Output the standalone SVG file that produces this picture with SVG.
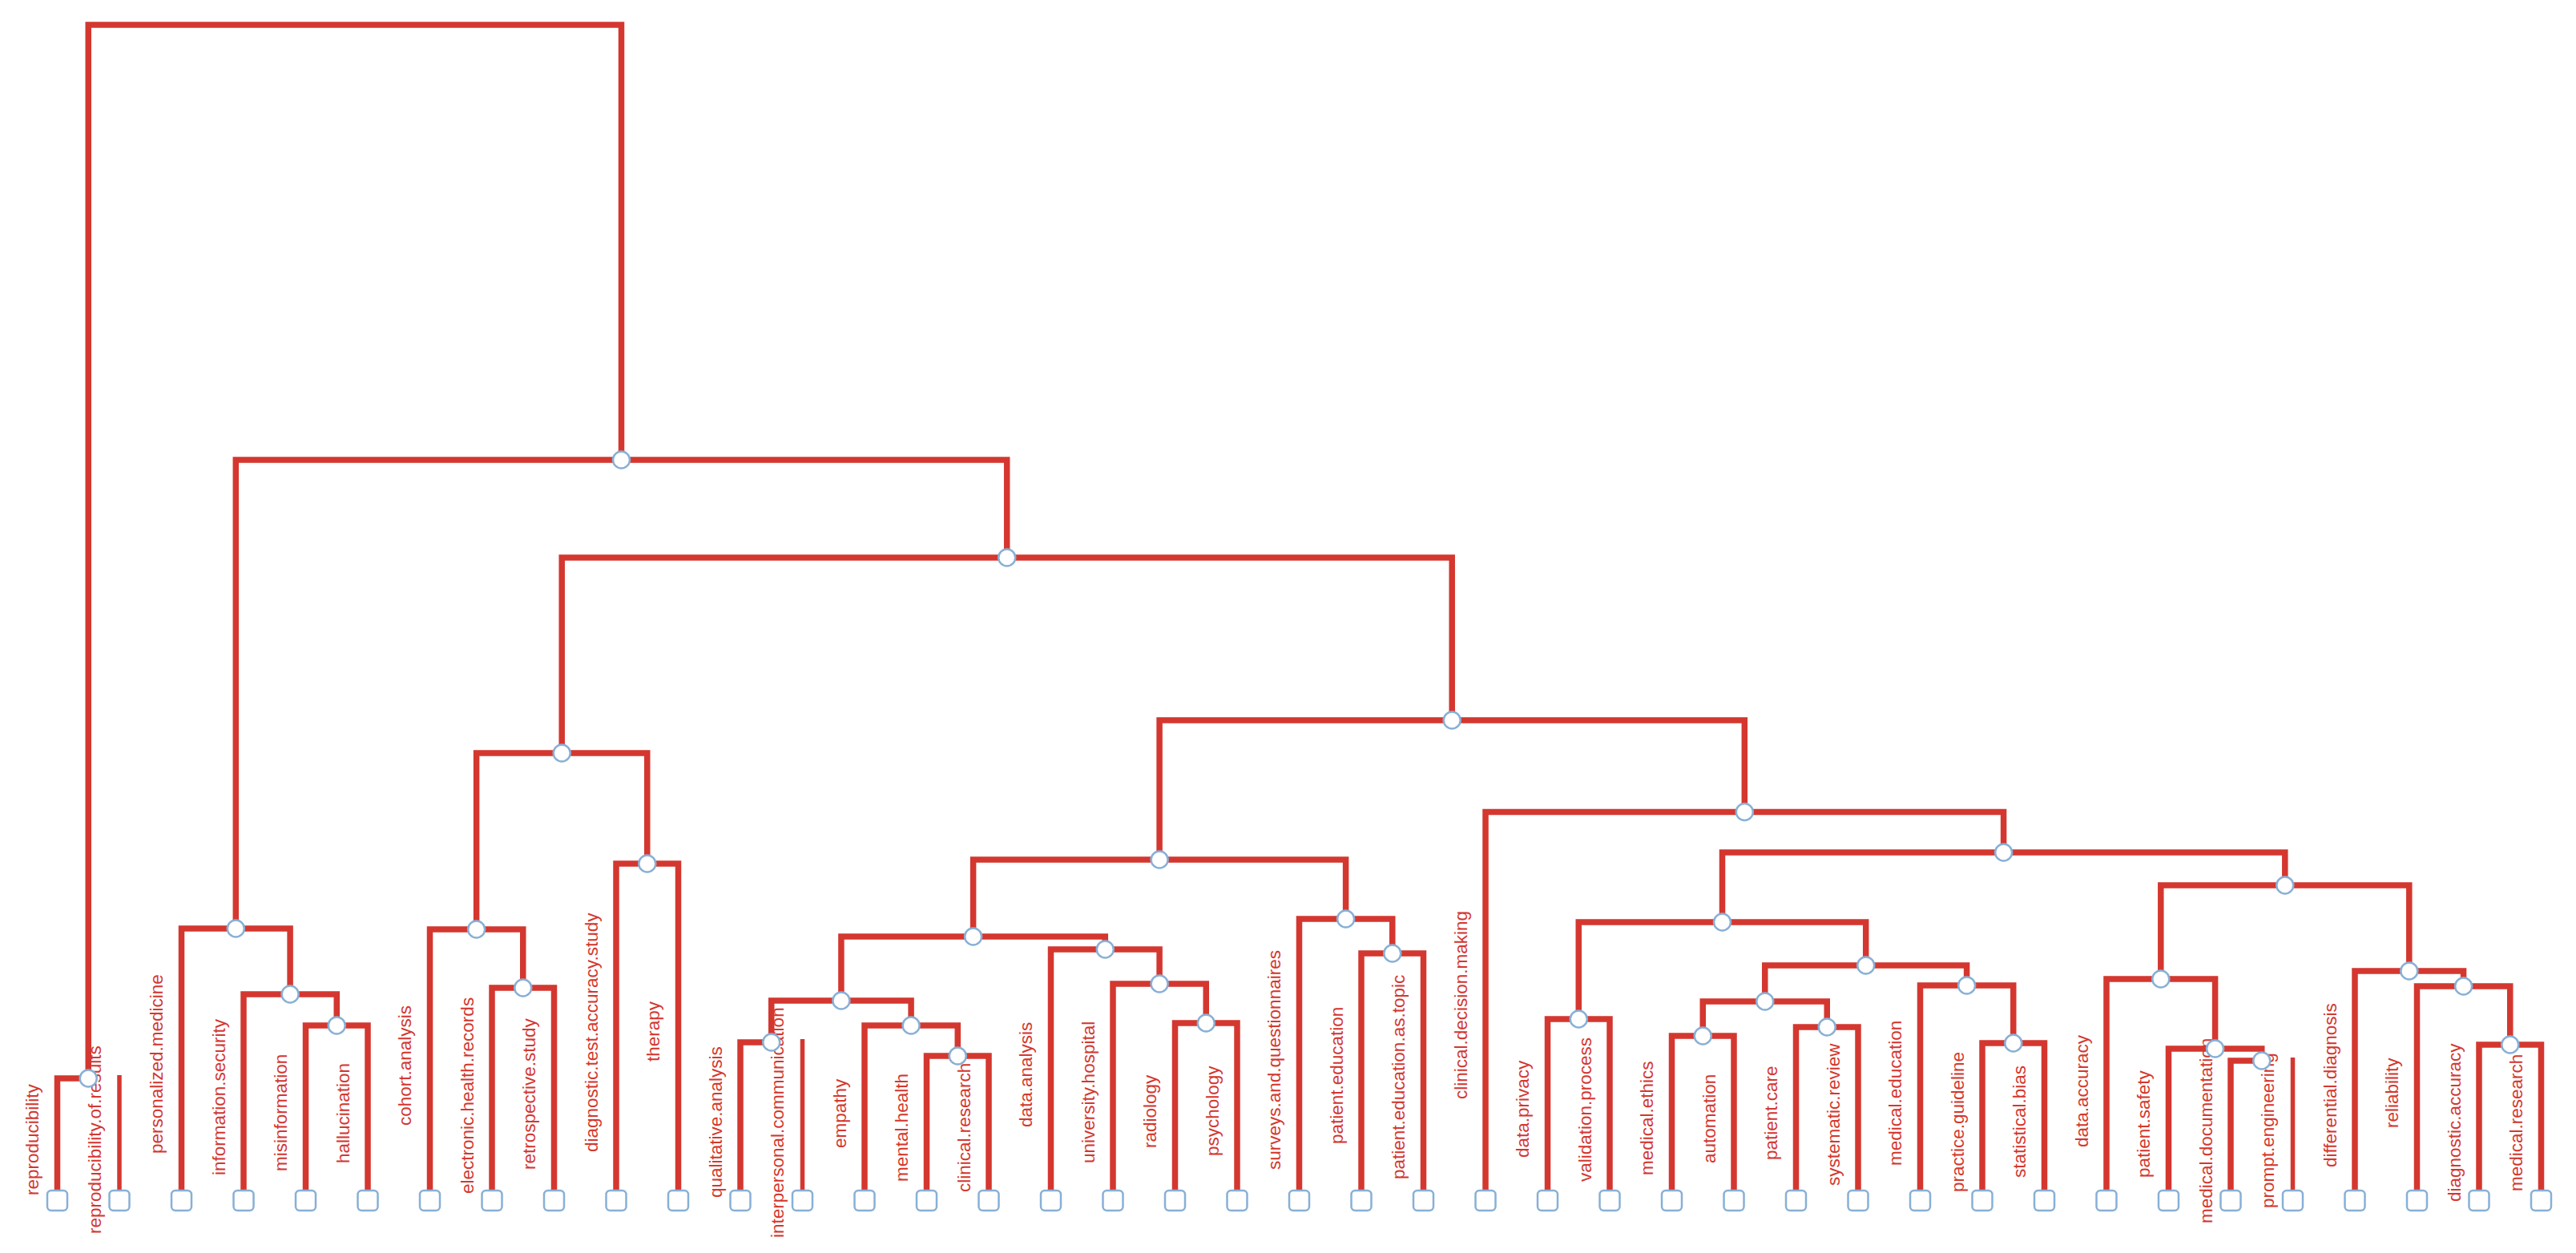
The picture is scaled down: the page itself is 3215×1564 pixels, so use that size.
<svg xmlns="http://www.w3.org/2000/svg" width="3215" height="1564" viewBox="0 0 3215 1564">
<style>
.e{fill:none;stroke:#d4372f;stroke-width:7.5;stroke-linejoin:miter}
.t{fill:none;stroke:#d4372f;stroke-width:5.5}
.n{fill:#ffffff;stroke:#88b0d6;stroke-width:2.5}
.l{fill:#ffffff;stroke:#88b0d6;stroke-width:2.5}
.lb{font-family:"Liberation Sans",Arial,sans-serif;font-size:22.5px;fill:#d4372f}
</style>
<rect width="3215" height="1564" fill="#ffffff"/>
<g id="connectors">
<path class="e" d="M110.25 1346 V31 H775.5 V574"/>
<path class="e" d="M71.5 1490 V1346 H110.25"/>
<path class="t" d="M149 1342 V1490"/>
<path class="e" d="M294.3 1159 V574 H1256.7 V696"/>
<path class="e" d="M226.5 1490 V1159 H362.1 V1241"/>
<path class="e" d="M304 1490 V1241 H420.25 V1280"/>
<path class="e" d="M381.5 1490 V1280 H459 V1490"/>
<path class="e" d="M701.2 940 V696 H1812.2 V899"/>
<path class="e" d="M594.6 1160 V940 H807.75 V1078"/>
<path class="e" d="M536.5 1490 V1160 H652.75 V1233"/>
<path class="e" d="M614 1490 V1233 H691.5 V1490"/>
<path class="e" d="M769 1490 V1078 H846.5 V1490"/>
<path class="e" d="M1447.1 1073 V899 H2177.3 V1013.5"/>
<path class="e" d="M1214.6 1169 V1073 H1679.6 V1147"/>
<path class="e" d="M1049.9 1249 V1169 H1379.3 V1185"/>
<path class="e" d="M962.75 1301 V1249 H1137.1 V1280"/>
<path class="e" d="M924 1490 V1301 H962.75"/>
<path class="t" d="M1001.5 1297 V1490"/>
<path class="e" d="M1079 1490 V1280 H1195.25 V1318"/>
<path class="e" d="M1156.5 1490 V1318 H1234 V1490"/>
<path class="e" d="M1311.5 1490 V1185 H1447.1 V1228"/>
<path class="e" d="M1389 1490 V1228 H1505.25 V1277"/>
<path class="e" d="M1466.5 1490 V1277 H1544 V1490"/>
<path class="e" d="M1621.5 1490 V1147 H1737.75 V1190"/>
<path class="e" d="M1699 1490 V1190 H1776.5 V1490"/>
<path class="e" d="M1854 1490 V1013.5 H2500.6 V1064"/>
<path class="e" d="M2149.5 1151 V1064 H2851.8 V1105"/>
<path class="e" d="M1970.25 1272 V1151 H2328.7 V1205"/>
<path class="e" d="M1931.5 1490 V1272 H2009 V1490"/>
<path class="e" d="M2202.75 1250 V1205 H2454.6 V1230"/>
<path class="e" d="M2125.25 1293 V1250 H2280.25 V1282"/>
<path class="e" d="M2086.5 1490 V1293 H2164 V1490"/>
<path class="e" d="M2241.5 1490 V1282 H2319 V1490"/>
<path class="e" d="M2396.5 1490 V1230 H2512.75 V1302"/>
<path class="e" d="M2474 1490 V1302 H2551.5 V1490"/>
<path class="e" d="M2696.8 1222 V1105 H3006.8 V1212"/>
<path class="e" d="M2629 1490 V1222 H2764.6 V1309"/>
<path class="e" d="M2706.5 1490 V1309 H2822.75 V1324"/>
<path class="e" d="M2784 1490 V1324 H2822.75"/>
<path class="t" d="M2861.5 1320 V1490"/>
<path class="e" d="M2939 1490 V1212 H3074.6 V1231"/>
<path class="e" d="M3016.5 1490 V1231 H3132.75 V1304"/>
<path class="e" d="M3094 1490 V1304 H3171.5 V1490"/>
</g>
<g id="leaf-0"><rect class="l" x="59" y="1486" width="25" height="25" rx="5"/><text class="lb" transform="translate(48,1492) rotate(-90)">reproducibility</text></g>
<g id="leaf-1"><rect class="l" x="136.5" y="1486" width="25" height="25" rx="5"/><text class="lb" transform="translate(125.5,1540) rotate(-90)">reproducibility.of.results</text></g>
<g id="leaf-2"><rect class="l" x="214" y="1486" width="25" height="25" rx="5"/><text class="lb" transform="translate(203,1440) rotate(-90)">personalized.medicine</text></g>
<g id="leaf-3"><rect class="l" x="291.5" y="1486" width="25" height="25" rx="5"/><text class="lb" transform="translate(280.5,1467) rotate(-90)">information.security</text></g>
<g id="leaf-4"><rect class="l" x="369" y="1486" width="25" height="25" rx="5"/><text class="lb" transform="translate(358,1462) rotate(-90)">misinformation</text></g>
<g id="leaf-5"><rect class="l" x="446.5" y="1486" width="25" height="25" rx="5"/><text class="lb" transform="translate(435.5,1452) rotate(-90)">hallucination</text></g>
<g id="leaf-6"><rect class="l" x="524" y="1486" width="25" height="25" rx="5"/><text class="lb" transform="translate(513,1405) rotate(-90)">cohort.analysis</text></g>
<g id="leaf-7"><rect class="l" x="601.5" y="1486" width="25" height="25" rx="5"/><text class="lb" transform="translate(590.5,1490) rotate(-90)">electronic.health.records</text></g>
<g id="leaf-8"><rect class="l" x="679" y="1486" width="25" height="25" rx="5"/><text class="lb" transform="translate(668,1460) rotate(-90)">retrospective.study</text></g>
<g id="leaf-9"><rect class="l" x="756.5" y="1486" width="25" height="25" rx="5"/><text class="lb" transform="translate(745.5,1438) rotate(-90)">diagnostic.test.accuracy.study</text></g>
<g id="leaf-10"><rect class="l" x="834" y="1486" width="25" height="25" rx="5"/><text class="lb" transform="translate(823,1325) rotate(-90)">therapy</text></g>
<g id="leaf-11"><rect class="l" x="911.5" y="1486" width="25" height="25" rx="5"/><text class="lb" transform="translate(900.5,1495) rotate(-90)">qualitative.analysis</text></g>
<g id="leaf-12"><rect class="l" x="989" y="1486" width="25" height="25" rx="5"/><text class="lb" transform="translate(978,1545) rotate(-90)">interpersonal.communication</text></g>
<g id="leaf-13"><rect class="l" x="1066.5" y="1486" width="25" height="25" rx="5"/><text class="lb" transform="translate(1055.5,1433) rotate(-90)">empathy</text></g>
<g id="leaf-14"><rect class="l" x="1144" y="1486" width="25" height="25" rx="5"/><text class="lb" transform="translate(1133,1475) rotate(-90)">mental.health</text></g>
<g id="leaf-15"><rect class="l" x="1221.5" y="1486" width="25" height="25" rx="5"/><text class="lb" transform="translate(1210.5,1488) rotate(-90)">clinical.research</text></g>
<g id="leaf-16"><rect class="l" x="1299" y="1486" width="25" height="25" rx="5"/><text class="lb" transform="translate(1288,1407) rotate(-90)">data.analysis</text></g>
<g id="leaf-17"><rect class="l" x="1376.5" y="1486" width="25" height="25" rx="5"/><text class="lb" transform="translate(1365.5,1452) rotate(-90)">university.hospital</text></g>
<g id="leaf-18"><rect class="l" x="1454" y="1486" width="25" height="25" rx="5"/><text class="lb" transform="translate(1443,1433) rotate(-90)">radiology</text></g>
<g id="leaf-19"><rect class="l" x="1531.5" y="1486" width="25" height="25" rx="5"/><text class="lb" transform="translate(1520.5,1443) rotate(-90)">psychology</text></g>
<g id="leaf-20"><rect class="l" x="1609" y="1486" width="25" height="25" rx="5"/><text class="lb" transform="translate(1598,1460) rotate(-90)">surveys.and.questionnaires</text></g>
<g id="leaf-21"><rect class="l" x="1686.5" y="1486" width="25" height="25" rx="5"/><text class="lb" transform="translate(1675.5,1428) rotate(-90)">patient.education</text></g>
<g id="leaf-22"><rect class="l" x="1764" y="1486" width="25" height="25" rx="5"/><text class="lb" transform="translate(1753,1472) rotate(-90)">patient.education.as.topic</text></g>
<g id="leaf-23"><rect class="l" x="1841.5" y="1486" width="25" height="25" rx="5"/><text class="lb" transform="translate(1830.5,1372) rotate(-90)">clinical.decision.making</text></g>
<g id="leaf-24"><rect class="l" x="1919" y="1486" width="25" height="25" rx="5"/><text class="lb" transform="translate(1908,1445) rotate(-90)">data.privacy</text></g>
<g id="leaf-25"><rect class="l" x="1996.5" y="1486" width="25" height="25" rx="5"/><text class="lb" transform="translate(1985.5,1475) rotate(-90)">validation.process</text></g>
<g id="leaf-26"><rect class="l" x="2074" y="1486" width="25" height="25" rx="5"/><text class="lb" transform="translate(2063,1467) rotate(-90)">medical.ethics</text></g>
<g id="leaf-27"><rect class="l" x="2151.5" y="1486" width="25" height="25" rx="5"/><text class="lb" transform="translate(2140.5,1452) rotate(-90)">automation</text></g>
<g id="leaf-28"><rect class="l" x="2229" y="1486" width="25" height="25" rx="5"/><text class="lb" transform="translate(2218,1448) rotate(-90)">patient.care</text></g>
<g id="leaf-29"><rect class="l" x="2306.5" y="1486" width="25" height="25" rx="5"/><text class="lb" transform="translate(2295.5,1480) rotate(-90)">systematic.review</text></g>
<g id="leaf-30"><rect class="l" x="2384" y="1486" width="25" height="25" rx="5"/><text class="lb" transform="translate(2373,1455) rotate(-90)">medical.education</text></g>
<g id="leaf-31"><rect class="l" x="2461.5" y="1486" width="25" height="25" rx="5"/><text class="lb" transform="translate(2450.5,1488) rotate(-90)">practice.guideline</text></g>
<g id="leaf-32"><rect class="l" x="2539" y="1486" width="25" height="25" rx="5"/><text class="lb" transform="translate(2528,1470) rotate(-90)">statistical.bias</text></g>
<g id="leaf-33"><rect class="l" x="2616.5" y="1486" width="25" height="25" rx="5"/><text class="lb" transform="translate(2605.5,1432) rotate(-90)">data.accuracy</text></g>
<g id="leaf-34"><rect class="l" x="2694" y="1486" width="25" height="25" rx="5"/><text class="lb" transform="translate(2683,1470) rotate(-90)">patient.safety</text></g>
<g id="leaf-35"><rect class="l" x="2771.5" y="1486" width="25" height="25" rx="5"/><text class="lb" transform="translate(2760.5,1527) rotate(-90)">medical.documentation</text></g>
<g id="leaf-36"><rect class="l" x="2849" y="1486" width="25" height="25" rx="5"/><text class="lb" transform="translate(2838,1508) rotate(-90)">prompt.engineering</text></g>
<g id="leaf-37"><rect class="l" x="2926.5" y="1486" width="25" height="25" rx="5"/><text class="lb" transform="translate(2915.5,1457) rotate(-90)">differential.diagnosis</text></g>
<g id="leaf-38"><rect class="l" x="3004" y="1486" width="25" height="25" rx="5"/><text class="lb" transform="translate(2993,1408) rotate(-90)">reliability</text></g>
<g id="leaf-39"><rect class="l" x="3081.5" y="1486" width="25" height="25" rx="5"/><text class="lb" transform="translate(3070.5,1500) rotate(-90)">diagnostic.accuracy</text></g>
<g id="leaf-40"><rect class="l" x="3159" y="1486" width="25" height="25" rx="5"/><text class="lb" transform="translate(3148,1487) rotate(-90)">medical.research</text></g>
<g id="node-n1"><circle class="n" cx="110.25" cy="1346" r="10.5"/></g>
<g id="node-n2"><circle class="n" cx="775.5" cy="574" r="10.5"/></g>
<g id="node-n3"><circle class="n" cx="294.3" cy="1159" r="10.5"/></g>
<g id="node-n4"><circle class="n" cx="1256.7" cy="696" r="10.5"/></g>
<g id="node-n5"><circle class="n" cx="362.1" cy="1241" r="10.5"/></g>
<g id="node-n6"><circle class="n" cx="420.25" cy="1280" r="10.5"/></g>
<g id="node-n7"><circle class="n" cx="701.2" cy="940" r="10.5"/></g>
<g id="node-n8"><circle class="n" cx="1812.2" cy="899" r="10.5"/></g>
<g id="node-n9"><circle class="n" cx="594.6" cy="1160" r="10.5"/></g>
<g id="node-n10"><circle class="n" cx="807.75" cy="1078" r="10.5"/></g>
<g id="node-n11"><circle class="n" cx="652.75" cy="1233" r="10.5"/></g>
<g id="node-n12"><circle class="n" cx="1447.1" cy="1073" r="10.5"/></g>
<g id="node-n13"><circle class="n" cx="2177.3" cy="1013.5" r="10.5"/></g>
<g id="node-n14"><circle class="n" cx="1214.6" cy="1169" r="10.5"/></g>
<g id="node-n15"><circle class="n" cx="1679.6" cy="1147" r="10.5"/></g>
<g id="node-n16"><circle class="n" cx="1049.9" cy="1249" r="10.5"/></g>
<g id="node-n17"><circle class="n" cx="1379.3" cy="1185" r="10.5"/></g>
<g id="node-n18"><circle class="n" cx="962.75" cy="1301" r="10.5"/></g>
<g id="node-n19"><circle class="n" cx="1137.1" cy="1280" r="10.5"/></g>
<g id="node-n20"><circle class="n" cx="1195.25" cy="1318" r="10.5"/></g>
<g id="node-n21"><circle class="n" cx="1447.1" cy="1228" r="10.5"/></g>
<g id="node-n22"><circle class="n" cx="1505.25" cy="1277" r="10.5"/></g>
<g id="node-n23"><circle class="n" cx="1737.75" cy="1190" r="10.5"/></g>
<g id="node-n24"><circle class="n" cx="2500.6" cy="1064" r="10.5"/></g>
<g id="node-n25"><circle class="n" cx="2149.5" cy="1151" r="10.5"/></g>
<g id="node-n26"><circle class="n" cx="2851.8" cy="1105" r="10.5"/></g>
<g id="node-n27"><circle class="n" cx="1970.25" cy="1272" r="10.5"/></g>
<g id="node-n28"><circle class="n" cx="2328.7" cy="1205" r="10.5"/></g>
<g id="node-n29"><circle class="n" cx="2202.75" cy="1250" r="10.5"/></g>
<g id="node-n30"><circle class="n" cx="2454.6" cy="1230" r="10.5"/></g>
<g id="node-n31"><circle class="n" cx="2125.25" cy="1293" r="10.5"/></g>
<g id="node-n32"><circle class="n" cx="2280.25" cy="1282" r="10.5"/></g>
<g id="node-n33"><circle class="n" cx="2512.75" cy="1302" r="10.5"/></g>
<g id="node-n34"><circle class="n" cx="2696.8" cy="1222" r="10.5"/></g>
<g id="node-n35"><circle class="n" cx="3006.8" cy="1212" r="10.5"/></g>
<g id="node-n36"><circle class="n" cx="2764.6" cy="1309" r="10.5"/></g>
<g id="node-n37"><circle class="n" cx="2822.75" cy="1324" r="10.5"/></g>
<g id="node-n38"><circle class="n" cx="3074.6" cy="1231" r="10.5"/></g>
<g id="node-n39"><circle class="n" cx="3132.75" cy="1304" r="10.5"/></g>
</svg>
